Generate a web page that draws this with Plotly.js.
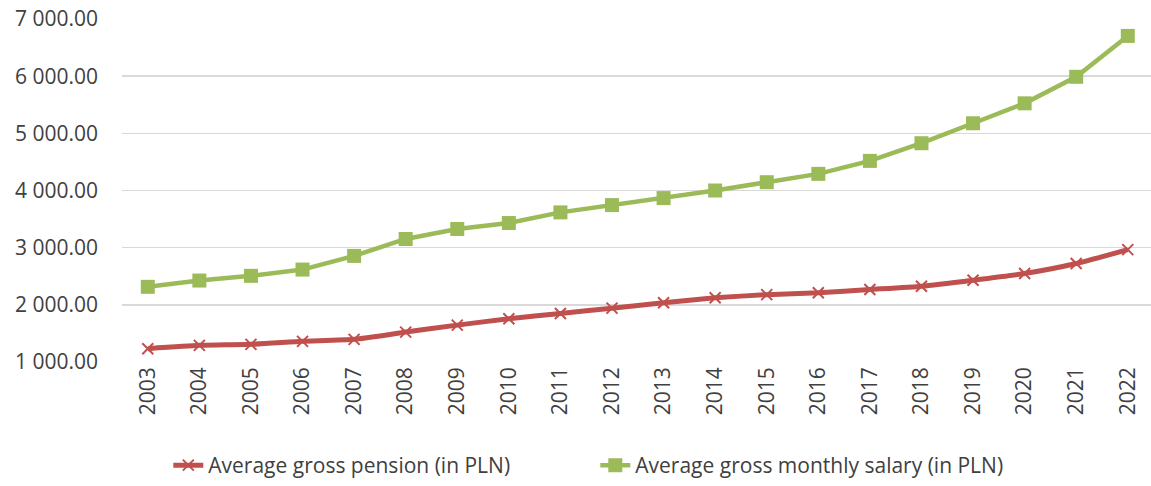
<!DOCTYPE html>
<html>
<head>
<meta charset="utf-8">
<script src="https://cdn.plot.ly/plotly-3.0.1.min.js"></script>
<style>html,body{margin:0;padding:0;background:#fff;}#chart{width:1151px;height:486px;}</style>
</head>
<body>
<div id="chart"></div>
<script>
const years = ["2003","2004","2005","2006","2007","2008","2009","2010","2011","2012","2013","2014","2015","2016","2017","2018","2019","2020","2021","2022"];
const pension = [1233,1291,1309,1361,1396,1523,1645,1757,1849,1942,2036,2123,2178,2210,2268,2326,2430,2547,2722,2966];
const salary = [2315,2425,2507,2617,2856,3152,3327,3431,3617,3745,3867,4000,4145,4291,4518,4827,5176,5525,5989,6704];
const pensionName = "Average gross pension (in PLN)";
const salaryName = "Average gross monthly salary (in PLN)";

const traces = [
  {x: years, y: pension, name: pensionName, type: "scatter", mode: "lines+markers",
   line: {color: "#C0504D", width: 5, shape: "spline", smoothing: 0.5},
   marker: {symbol: "x-thin", size: 11, color: "#C0504D", line: {color: "#C0504D", width: 2}}},
  {x: years, y: salary, name: salaryName, type: "scatter", mode: "lines+markers",
   line: {color: "#9BBB59", width: 4.5},
   marker: {symbol: "square", size: 14, color: "#9BBB59"}}
];

const layout = {
  width: 1151, height: 486,
  margin: {l: 122, r: 0, t: 19, b: 123},
  paper_bgcolor: "#fff", plot_bgcolor: "#fff",
  separators: ". ",
  showlegend: true,
  legend: {orientation: "h", x: 0.045, xanchor: "left", y: -0.3, yanchor: "middle",
           entrywidth: 382,
           font: {family: "Open Sans, sans-serif", size: 21, color: "#404040"}, traceorder: "normal"},
  xaxis: {type: "category", range: [-0.5, 19.45], showgrid: false, zeroline: false, showline: false,
          automargin: false,
          tickangle: -90, ticks: "", tickfont: {family: "Open Sans, sans-serif", size: 21, color: "#404040"}},
  yaxis: {range: [1000, 7000], dtick: 1000, tick0: 1000, tickformat: ",.2f", showgrid: true,
          automargin: false,
          gridcolor: "#D9D9D9", gridwidth: 1.5, zeroline: false, showline: false, ticks: "",
          ticklabelstandoff: 23,
          tickfont: {family: "Open Sans, sans-serif", size: 21, color: "#404040"}}
};
Plotly.newPlot("chart", traces, layout, {displayModeBar: false, staticPlot: true});
</script>
</body>
</html>
